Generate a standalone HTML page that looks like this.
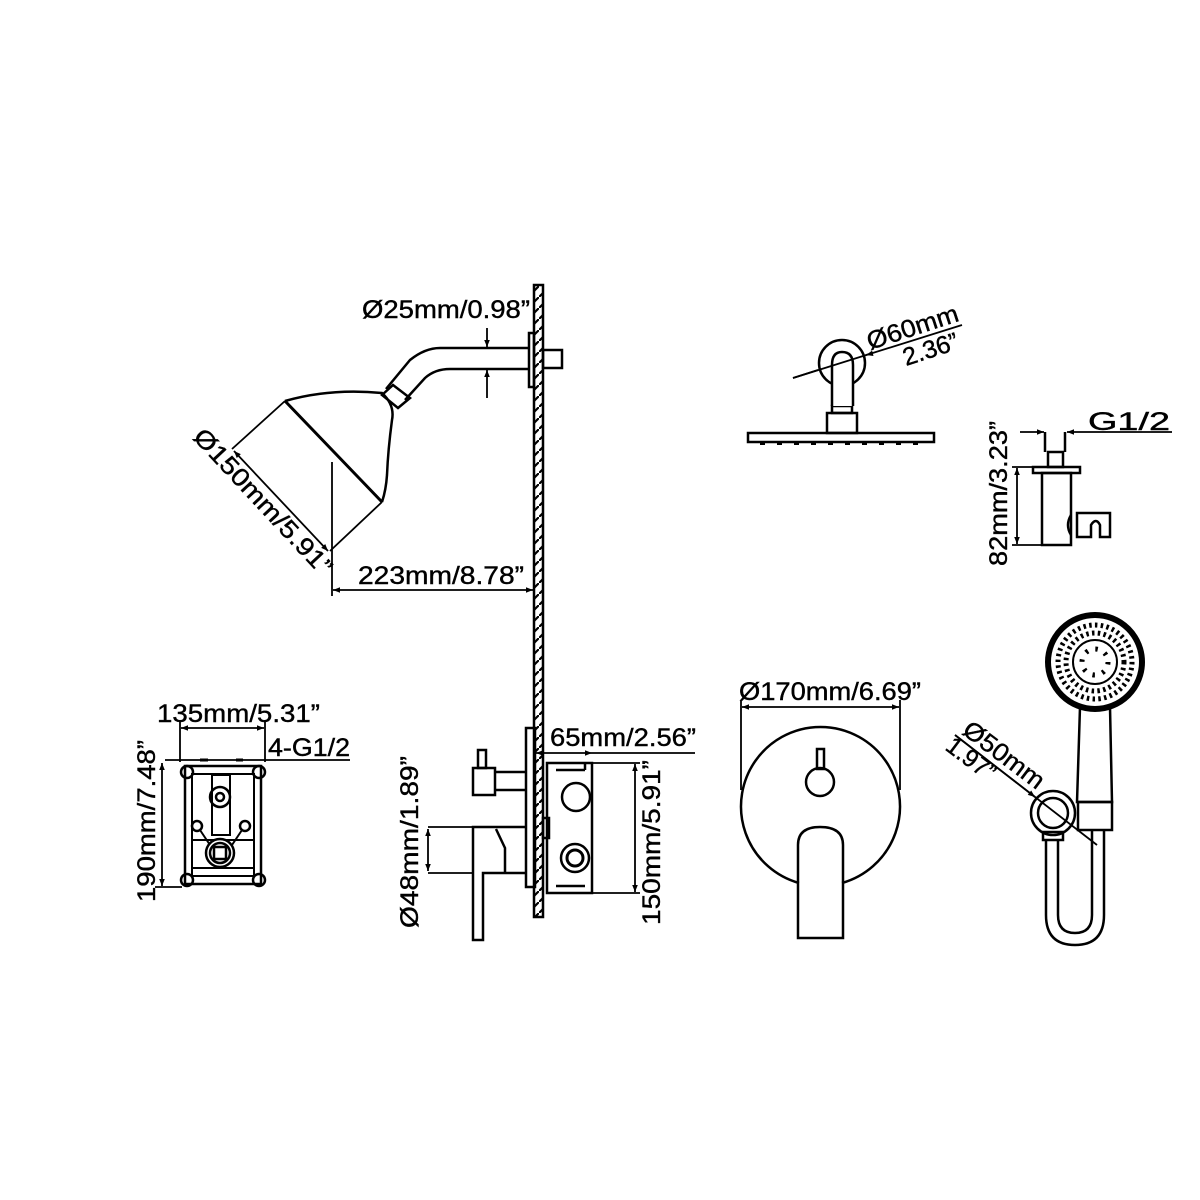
<!DOCTYPE html>
<html><head><meta charset="utf-8"><style>
html,body{margin:0;padding:0;background:#fff}
svg{display:block}
text{font-family:"Liberation Sans",Arial,sans-serif;font-size:25px;fill:#000;stroke:#000;stroke-width:0.4}
</style></head><body>
<svg width="1200" height="1200" viewBox="0 0 1200 1200" xmlns="http://www.w3.org/2000/svg">
<defs>
<pattern id="h" width="11" height="11" patternUnits="userSpaceOnUse">
<path d="M0 11 L11 0" stroke="#000" stroke-width="2.2"/>
</pattern>
<marker id="a" viewBox="0 0 10 10" refX="10" refY="5" markerWidth="10" markerHeight="7" orient="auto-start-reverse" markerUnits="userSpaceOnUse"><path d="M0 1 L10 5 L0 9 z" fill="#000"/></marker>
</defs>
<g fill="none" stroke="#000" stroke-width="2.5">
<rect x="534" y="285" width="9" height="632" fill="url(#h)"/>

<rect x="529" y="333" width="5" height="54"/>
<rect x="543" y="350" width="19" height="18"/>
<path d="M529 348 L440 348 Q425 348 410 360 L386 389"/>
<path d="M529 369 L450 369 Q435 369 425 378 L405 400"/>
<path d="M393 385 L410 398 L398 408 L382 395 Z"/>
<path d="M285 401 Q330 388 382 393 Q395 405 392 420 Q388 450 387 475 Q386 490 382 502"/>
<path d="M285 401 L382 502" stroke-width="3"/>
<path d="M289 406 L378 497" stroke-width="1.5"/>
<path d="M285 401 L232 449" stroke-width="1.8"/>
<path d="M382 502 L330 551" stroke-width="1.8"/>
<line x1="234" y1="451" x2="328" y2="551" stroke-width="1.8" marker-start="url(#a)" marker-end="url(#a)"/>
<line x1="332" y1="462" x2="332" y2="596" stroke-width="1.8"/>
<line x1="333" y1="590" x2="533" y2="590" stroke-width="1.8" marker-start="url(#a)" marker-end="url(#a)"/>
<line x1="487" y1="328" x2="487" y2="347" stroke-width="1.8" marker-end="url(#a)"/>
<line x1="487" y1="398" x2="487" y2="370" stroke-width="1.8" marker-end="url(#a)"/>

<rect x="526" y="728" width="9" height="159"/>
<rect x="473" y="768" width="22" height="27"/>
<rect x="478" y="750" width="8" height="18"/>
<path d="M495 772 L526 772 M495 790 L526 790"/>
<path d="M526 827 L473 827 L473 940 L483 940 L483 873 L526 873"/>
<path d="M496 829 L505 848 L505 872"/>
<line x1="428" y1="827" x2="473" y2="827" stroke-width="1.8"/>
<line x1="428" y1="873" x2="473" y2="873" stroke-width="1.8"/>
<line x1="428" y1="829" x2="428" y2="871" stroke-width="1.8" marker-start="url(#a)" marker-end="url(#a)"/>
<rect x="547" y="763" width="45" height="130"/>
<path d="M556 770 L585 770 M585 763 L585 770 M556 886 L585 886"/>
<rect x="543" y="818" width="6" height="20"/>
<circle cx="576" cy="797" r="14"/>
<circle cx="575" cy="858" r="14"/>
<circle cx="575" cy="858" r="8" stroke-width="3"/>
<line x1="536" y1="753" x2="592" y2="753" stroke-width="1.8" marker-start="url(#a)" marker-end="url(#a)"/>
<line x1="592" y1="753" x2="695" y2="753" stroke-width="1.8"/>
<line x1="592" y1="763" x2="640" y2="763" stroke-width="1.8"/>
<line x1="592" y1="893" x2="640" y2="893" stroke-width="1.8"/>
<line x1="635" y1="764" x2="635" y2="892" stroke-width="1.8" marker-start="url(#a)" marker-end="url(#a)"/>

<!-- rain shower -->
<rect x="748" y="433" width="186" height="9"/>
<path d="M760 444 h5 M777 444 h5 M794 444 h5 M811 444 h5 M828 444 h5 M845 444 h5 M862 444 h5 M879 444 h5 M896 444 h5 M913 444 h5" stroke-width="2"/>
<rect x="827" y="413" width="30" height="20"/>
<rect x="832" y="406" width="20" height="7"/>
<circle cx="842" cy="363" r="23"/>
<path d="M832 406 L832 365 Q832 352 842 352 Q853 352 853 365 L853 406" fill="#fff"/>
<line x1="793" y1="378" x2="962" y2="325" stroke-width="1.8"/>
<path d="M793 378 L818 370 M870 354 L866 355" stroke-width="1.8" marker-end="url(#a)"/>

<line x1="1020" y1="432" x2="1044" y2="432" stroke-width="1.8" marker-end="url(#a)"/>
<line x1="1172" y1="432" x2="1067" y2="432" stroke-width="1.8" marker-end="url(#a)"/>
<path d="M1045 432 L1045 452 M1065 432 L1065 452"/>
<rect x="1048" y="452" width="15" height="15"/>
<rect x="1033" y="467" width="47" height="6"/>
<rect x="1042" y="473" width="29" height="72"/>
<path d="M1071 515 Q1065 525 1071 535 M1077 513 L1110 513 L1110 537 L1100 537 L1100 525 Q1096 517 1091 525 L1091 537 L1077 537 Z"/>
<line x1="1012" y1="467" x2="1033" y2="467" stroke-width="1.8"/>
<line x1="1012" y1="545" x2="1042" y2="545" stroke-width="1.8"/>
<line x1="1017" y1="468" x2="1017" y2="544" stroke-width="1.8" marker-start="url(#a)" marker-end="url(#a)"/>

<rect x="185" y="766" width="76" height="118"/>
<rect x="192" y="774" width="62" height="102" stroke-width="2"/>
<circle cx="187" cy="772" r="6"/><circle cx="259" cy="772" r="6"/>
<circle cx="187" cy="880" r="6"/><circle cx="259" cy="880" r="6"/>
<rect x="212" y="775" width="18" height="60" stroke-width="2"/>
<circle cx="220" cy="797" r="10"/><circle cx="220" cy="797" r="4"/>
<circle cx="197" cy="826" r="5"/><circle cx="245" cy="826" r="5"/>
<path d="M200 830 L210 845 M242 830 L232 845" stroke-width="2"/>
<rect x="192" y="840" width="62" height="28" stroke-width="2"/>
<circle cx="220" cy="853" r="14" fill="#fff"/>
<circle cx="220" cy="853" r="10"/>
<rect x="214" y="847" width="12" height="12"/>
<line x1="181" y1="728" x2="264" y2="728" stroke-width="1.8" marker-start="url(#a)" marker-end="url(#a)"/>
<path d="M180 720 L180 762 M265 720 L265 762" stroke-width="1.8"/>
<line x1="165" y1="760" x2="350" y2="760" stroke-width="1.8"/>
<path d="M200 760 L208 760 M236 760 L243 760" stroke-width="3"/>
<line x1="162" y1="763" x2="162" y2="886" stroke-width="1.8" marker-start="url(#a)" marker-end="url(#a)"/>
<line x1="155" y1="887" x2="182" y2="887" stroke-width="1.8"/>

<path d="M799 883 A79.5 79.5 0 1 1 842 883"/>
<path d="M798 938 L798 845 Q798 827 820 827 Q843 827 843 845 L843 938 Z"/>
<circle cx="820" cy="782" r="14"/>
<rect x="817" y="749" width="7" height="20"/>
<line x1="742" y1="707" x2="899" y2="707" stroke-width="1.8" marker-start="url(#a)" marker-end="url(#a)"/>
<path d="M741 700 L741 790 M900 700 L900 790" stroke-width="1.8"/>

<circle cx="1095" cy="662" r="47" stroke-width="6"/>
<circle cx="1095" cy="662" r="37" stroke-width="5" stroke-dasharray="2.5 3.3"/>
<circle cx="1095" cy="662" r="29" stroke-width="5" stroke-dasharray="2.5 3.3"/>
<circle cx="1095" cy="662" r="22" stroke-width="2"/>
<circle cx="1095" cy="662" r="13" stroke-width="5" stroke-dasharray="2.5 7.7"/>
<path d="M1080 707 L1077 802 L1112 802 L1110 707"/>
<rect x="1078" y="802" width="34" height="28"/>
<circle cx="1053" cy="813" r="22"/>
<circle cx="1053" cy="813" r="15"/>
<path d="M1043 832 L1063 832 L1063 840 L1043 840 Z"/>
<path d="M1046 840 L1046 915 Q1046 945 1075 945 Q1104 945 1104 915 L1104 830"/>
<path d="M1058 840 L1058 915 Q1058 933 1075 933 Q1092 933 1092 915 L1092 830"/>
<line x1="955" y1="735" x2="1097" y2="845" stroke-width="1.8"/>
<path d="M955 735 L1035 797" stroke-width="1.8" marker-end="url(#a)"/>
</g>

<text x="362" y="318" textLength="168" lengthAdjust="spacingAndGlyphs">Ø25mm/0.98”</text>
<text x="358" y="584" textLength="166" lengthAdjust="spacingAndGlyphs">223mm/8.78”</text>
<text transform="translate(192,438) rotate(47)" textLength="190" lengthAdjust="spacingAndGlyphs">Ø150mm/5.91”</text>
<text x="157" y="722" textLength="163" lengthAdjust="spacingAndGlyphs">135mm/5.31”</text>
<text x="268" y="756" textLength="82" lengthAdjust="spacingAndGlyphs">4-G1/2</text>
<text transform="translate(155,902) rotate(-90)" textLength="162" lengthAdjust="spacingAndGlyphs">190mm/7.48”</text>
<text transform="translate(418,928) rotate(-90)" textLength="172" lengthAdjust="spacingAndGlyphs">Ø48mm/1.89”</text>
<text x="550" y="746" textLength="146" lengthAdjust="spacingAndGlyphs">65mm/2.56”</text>
<text transform="translate(660,925) rotate(-90)" textLength="165" lengthAdjust="spacingAndGlyphs">150mm/5.91”</text>
<text x="739" y="700" textLength="182" lengthAdjust="spacingAndGlyphs">Ø170mm/6.69”</text>
<text transform="translate(870,350) rotate(-18)" textLength="95" lengthAdjust="spacingAndGlyphs">Ø60mm</text>
<text transform="translate(906,366) rotate(-18)" textLength="57" lengthAdjust="spacingAndGlyphs">2.36”</text>
<text x="1088" y="430" textLength="82" lengthAdjust="spacingAndGlyphs">G1/2</text>
<text transform="translate(1007,566) rotate(-90)" textLength="145" lengthAdjust="spacingAndGlyphs">82mm/3.23”</text>
<text transform="translate(961,733) rotate(37)" textLength="95" lengthAdjust="spacingAndGlyphs">Ø50mm</text>
<text transform="translate(944,749) rotate(37)" textLength="55" lengthAdjust="spacingAndGlyphs">1.97”</text>
</svg>
</body></html>
